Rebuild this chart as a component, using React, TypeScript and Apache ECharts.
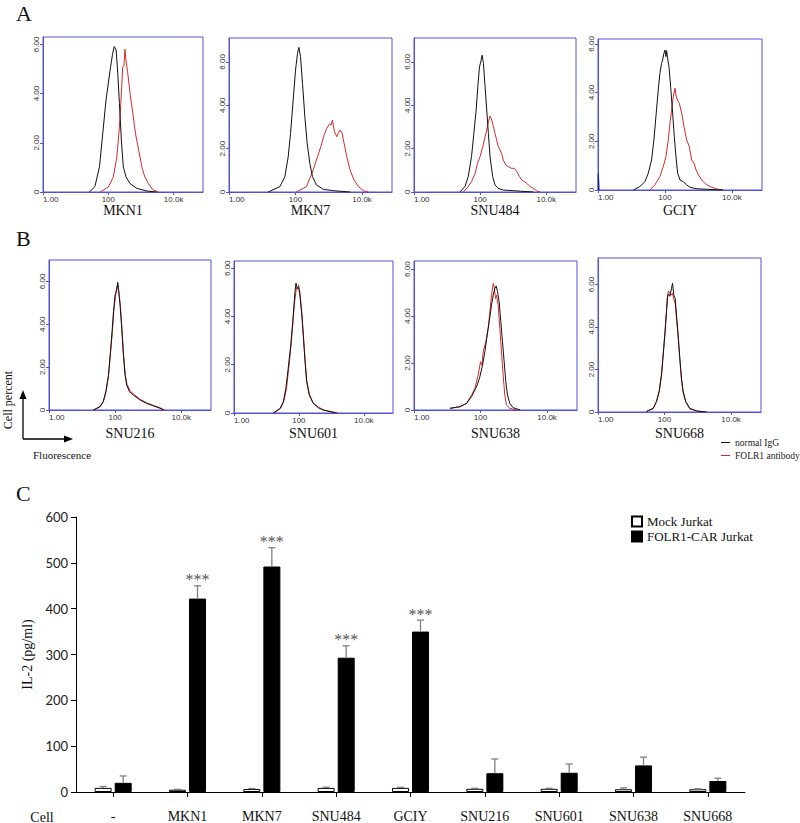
import React, { useEffect, useRef } from 'react';
import * as echarts from 'echarts';

const SERIF = "'Liberation Serif', 'Times New Roman', serif";
const SANS = "'Liberation Sans', Arial, sans-serif";
const BLUE = '#5252d6';

// ---------- Panel A / B : flow histograms (x = log10 fluorescence, y = cell %) ----------
const fluorTickLabels = ['1.00', '100', '10.0k'];

const mkn1Igg = [[1.42,0],[1.59,0.22],[1.73,1.03],[1.83,2.38],[1.93,3.74],[2.07,5.09],[2.13,5.6],[2.18,5.91],[2.24,5.77],[2.29,4.82],[2.34,3.6],[2.40,2.11],[2.46,1.03],[2.54,0.62],[2.66,0.35],[2.87,0.15],[3.18,0.04],[3.48,0]];
const mkn1Folr1 = [[1.75,0],[2.0,0.2],[2.15,0.6],[2.26,1.41],[2.34,2.63],[2.41,4.25],[2.44,5.07],[2.48,5.13],[2.51,5.8],[2.54,5.37],[2.59,4.9],[2.66,4.08],[2.75,3.2],[2.84,2.32],[2.94,1.63],[3.04,0.95],[3.12,0.61],[3.23,0.34],[3.36,0.1],[3.53,0]];

const mkn7Igg = [[1.18,0],[1.53,0.25],[1.68,0.71],[1.78,1.63],[1.85,2.7],[1.93,4.24],[2.0,5.62],[2.06,6.39],[2.10,6.67],[2.15,6.24],[2.21,5.0],[2.28,3.47],[2.35,2.24],[2.43,1.32],[2.51,0.71],[2.63,0.32],[2.84,0.12],[3.14,0.06],[3.64,0]];
const mkn7Folr1 = [[2.03,0],[2.33,0.25],[2.53,1.01],[2.66,1.63],[2.76,2.09],[2.86,2.63],[2.94,2.94],[3.02,3.13],[3.07,3.09],[3.11,3.32],[3.17,2.78],[3.24,2.55],[3.29,2.73],[3.34,2.86],[3.40,2.7],[3.47,2.17],[3.54,1.63],[3.64,1.01],[3.76,0.55],[3.89,0.25],[4.04,0.06],[4.19,0]];

const snu484Igg = [[1.39,0],[1.54,0.25],[1.64,0.71],[1.74,1.63],[1.81,2.7],[1.88,3.78],[1.93,4.85],[1.98,5.77],[2.02,6.0],[2.06,6.31],[2.10,5.93],[2.15,4.85],[2.20,3.78],[2.25,2.7],[2.30,1.63],[2.38,0.71],[2.45,0.32],[2.55,0.17],[2.70,0.09],[3.0,0.06],[3.61,0]];
const snu484Folr1 = [[1.49,0],[1.64,0.25],[1.74,0.48],[1.85,0.86],[1.92,1.32],[2.0,1.63],[2.08,2.09],[2.15,2.55],[2.20,2.86],[2.25,3.24],[2.30,3.5],[2.35,3.32],[2.40,3.01],[2.45,2.7],[2.50,2.4],[2.55,2.09],[2.60,1.94],[2.65,1.78],[2.70,1.47],[2.78,1.24],[2.85,1.17],[2.95,1.09],[3.03,1.09],[3.11,0.94],[3.19,0.71],[3.26,0.55],[3.33,0.48],[3.41,0.4],[3.51,0.25],[3.61,0.17],[3.71,0.05],[3.81,0]];

const gciyIgg = [[1.06,0],[1.25,0.14],[1.40,0.34],[1.50,0.68],[1.60,1.23],[1.67,2.05],[1.73,3.0],[1.80,4.11],[1.85,4.79],[1.90,5.2],[1.93,5.34],[1.97,5.61],[2.0,5.75],[2.03,5.48],[2.05,5.72],[2.08,5.41],[2.12,5.07],[2.17,4.25],[2.23,3.15],[2.28,2.19],[2.33,1.37],[2.38,0.68],[2.45,0.41],[2.55,0.34],[2.65,0.21],[2.75,0.11],[2.95,0.05],[3.25,0.03],[3.74,0]];
const gciyFolr1 = [[1.55,0],[1.70,0.21],[1.85,0.55],[1.95,0.96],[2.03,1.37],[2.10,2.05],[2.15,2.74],[2.20,3.29],[2.25,3.83],[2.30,4.18],[2.33,3.9],[2.37,3.70],[2.43,3.56],[2.50,3.15],[2.57,2.6],[2.65,2.05],[2.73,1.78],[2.80,1.23],[2.87,1.1],[2.93,0.82],[3.0,0.62],[3.10,0.41],[3.20,0.27],[3.35,0.14],[3.55,0.04],[3.74,0]];
const gciyUnstained = [[0.01,0],[0.01,0.68],[0.03,0.68],[0.03,0]];

const snu216Igg = [[1.34,0],[1.54,0.16],[1.64,0.39],[1.72,0.86],[1.80,1.63],[1.85,2.57],[1.90,3.5],[1.95,4.59],[2.0,5.37],[2.05,5.6],[2.08,5.96],[2.11,5.52],[2.15,4.9],[2.20,3.81],[2.25,2.57],[2.30,1.63],[2.35,1.17],[2.43,0.86],[2.55,0.7],[2.75,0.47],[2.95,0.31],[3.16,0.19],[3.36,0.08],[3.46,0]];
const snu216Folr1 = [[1.36,0],[1.55,0.15],[1.65,0.42],[1.73,0.9],[1.80,1.6],[1.86,2.62],[1.91,3.55],[1.96,4.6],[2.01,5.3],[2.05,5.75],[2.08,5.85],[2.12,5.45],[2.16,4.8],[2.21,3.7],[2.26,2.5],[2.31,1.6],[2.36,1.2],[2.45,0.9],[2.57,0.72],[2.76,0.5],[2.96,0.33],[3.18,0.2],[3.38,0.09],[3.5,0]];

const snu601Igg = [[1.21,0],[1.42,0.19],[1.52,0.47],[1.60,1.02],[1.67,1.85],[1.75,2.82],[1.81,3.79],[1.85,4.48],[1.88,5.03],[1.91,5.38],[1.95,5.17],[1.99,5.2],[2.03,4.9],[2.09,4.07],[2.14,3.1],[2.19,2.13],[2.24,1.3],[2.32,0.75],[2.44,0.4],[2.60,0.22],[2.75,0.12],[2.96,0.06],[3.16,0]];
const snu601Folr1 = [[1.25,0],[1.44,0.2],[1.54,0.5],[1.62,1.05],[1.69,1.9],[1.76,2.85],[1.82,3.8],[1.86,4.5],[1.90,4.95],[1.93,5.2],[1.97,5.15],[1.99,5.31],[2.03,5.0],[2.09,4.15],[2.14,3.2],[2.19,2.2],[2.24,1.35],[2.32,0.78],[2.44,0.42],[2.60,0.24],[2.78,0.12],[3.0,0.05],[3.2,0]];

const snu638Igg = [[1.08,0.07],[1.38,0.14],[1.58,0.28],[1.73,0.57],[1.83,0.85],[1.90,1.06],[1.98,1.42],[2.06,1.91],[2.13,2.48],[2.20,3.19],[2.26,3.76],[2.33,4.47],[2.38,4.89],[2.43,5.18],[2.47,5.29],[2.51,5.04],[2.56,4.61],[2.61,3.76],[2.66,2.91],[2.71,2.06],[2.76,1.21],[2.81,0.64],[2.88,0.28],[2.98,0.1],[3.19,0]];
const snu638Folr1 = [[1.08,0.07],[1.38,0.14],[1.58,0.28],[1.73,0.64],[1.83,0.92],[1.93,1.49],[2.0,2.06],[2.04,1.91],[2.08,2.48],[2.16,2.91],[2.23,3.48],[2.28,4.18],[2.33,4.89],[2.38,5.39],[2.41,5.25],[2.45,4.75],[2.48,4.89],[2.53,4.47],[2.58,3.48],[2.63,2.48],[2.68,1.49],[2.73,0.64],[2.78,0.21],[2.88,0.07],[3.08,0]];

const snu668Igg = [[1.46,0.03],[1.66,0.17],[1.76,0.49],[1.84,0.96],[1.91,1.74],[1.96,2.68],[2.01,3.63],[2.06,4.72],[2.09,5.4],[2.12,5.55],[2.16,5.45],[2.21,5.82],[2.24,6.06],[2.28,5.5],[2.32,5.35],[2.36,4.57],[2.41,3.63],[2.46,2.53],[2.51,1.59],[2.56,0.96],[2.64,0.49],[2.76,0.17],[2.97,0.05],[3.27,0]];
const snu668Folr1 = [[1.46,0.03],[1.66,0.17],[1.76,0.52],[1.84,1.0],[1.91,1.8],[1.96,2.75],[2.01,3.7],[2.06,4.8],[2.09,5.51],[2.12,5.7],[2.16,5.59],[2.20,5.5],[2.24,5.6],[2.28,5.3],[2.32,5.1],[2.36,4.4],[2.41,3.5],[2.46,2.45],[2.51,1.5],[2.56,0.9],[2.64,0.45],[2.76,0.15],[2.97,0.04],[3.2,0]];

const histNames = ['MKN1', 'MKN7', 'SNU484', 'GCIY', 'SNU216', 'SNU601', 'SNU638', 'SNU668'];
const histIgg = [mkn1Igg, mkn7Igg, snu484Igg, gciyIgg, snu216Igg, snu601Igg, snu638Igg, snu668Igg];
const histFolr1 = [mkn1Folr1, mkn7Folr1, snu484Folr1, gciyFolr1, snu216Folr1, snu601Folr1, snu638Folr1, snu668Folr1];
const histYMax = [6.3, 7.1, 7.1, 6.2, 7.0, 6.3, 6.35, 7.25];
const fluorMax = 4.9;

// ---------- Panel C : IL-2 release ----------
const cellLines = ['-', 'MKN1', 'MKN7', 'SNU484', 'GCIY', 'SNU216', 'SNU601', 'SNU638', 'SNU668'];
const mockIL2 = [9, 5, 6.5, 9, 9, 7, 7, 6, 6];
const mockErr = [3, 0.8, 1, 1.5, 1.5, 1, 1, 3, 1];
const carIL2 = [20, 422, 492, 293, 350, 41, 42, 58, 24];
const carErr = [15, 28, 41, 26, 25, 31, 19, 18, 6];
const significance = ['', '***', '***', '***', '***', '', '', '', ''];

// layout (pixels)
const histBoxes = [
  { left: 43, top: 37, width: 160, height: 155, gap: 11 },
  { left: 229, top: 38, width: 163, height: 154, gap: 11 },
  { left: 414, top: 38, width: 162, height: 154, gap: 11 },
  { left: 598, top: 39, width: 164, height: 151, gap: 13 },
  { left: 49, top: 260, width: 162, height: 150, gap: 16 },
  { left: 234, top: 261, width: 159, height: 152, gap: 13 },
  { left: 414, top: 261, width: 163, height: 149, gap: 16 },
  { left: 598, top: 258, width: 163, height: 154, gap: 14 },
];
const barBox = { left: 76, top: 517, width: 669, height: 276 };
const BAR_W = 17;
const BAR_OFF = 10;

export default function App() {
  const ref = useRef<HTMLDivElement>(null);
  useEffect(() => {
    if (!ref.current) return;
    const chart = echarts.init(ref.current, null, { renderer: 'svg' });

    const grids: any[] = [];
    const xAxes: any[] = [];
    const yAxes: any[] = [];
    const series: any[] = [];

    histNames.forEach((name, i) => {
      const b = histBoxes[i];
      grids.push({ left: b.left, top: b.top, width: b.width, height: b.height, show: true, borderColor: BLUE, borderWidth: 1, backgroundColor: 'transparent' });
      xAxes.push({
        type: 'value', gridIndex: i, min: 0, max: fluorMax, interval: 2,
        axisLine: { show: true, lineStyle: { color: BLUE, width: 1 } },
        axisTick: { show: true, length: 3, lineStyle: { color: BLUE } },
        splitLine: { show: false },
        axisLabel: {
          fontFamily: SANS, fontSize: 8, color: '#333', margin: 3, alignMinLabel: 'left', showMaxLabel: false,
          formatter: (v: number) => (Math.abs(v % 2) < 1e-6 && v / 2 < fluorTickLabels.length ? fluorTickLabels[v / 2] : ''),
        },
        name, nameLocation: 'middle', nameGap: b.gap,
        nameTextStyle: { fontFamily: SERIF, fontSize: 14, color: '#111' },
      });
      yAxes.push({
        type: 'value', gridIndex: i, min: 0, max: histYMax[i], interval: 2,
        axisLine: { show: true, lineStyle: { color: BLUE, width: 1 } },
        axisTick: { show: true, length: 3, lineStyle: { color: BLUE } },
        splitLine: { show: false },
        axisLabel: {
          fontFamily: SANS, fontSize: 8, color: '#333', margin: 3, rotate: 90, showMaxLabel: false,
          formatter: (v: number) => (v === 0 ? '0' : Math.abs(v % 2) < 1e-6 ? v.toFixed(2) : ''),
        },
      });
      series.push({
        type: 'line', name: 'FOLR1 antibody', xAxisIndex: i, yAxisIndex: i, data: histFolr1[i],
        showSymbol: false, symbol: 'none', lineStyle: { color: '#d42a2a', width: 1 }, itemStyle: { color: '#d42a2a' }, z: 3,
      });
      series.push({
        type: 'line', name: 'normal IgG', xAxisIndex: i, yAxisIndex: i, data: histIgg[i],
        showSymbol: false, symbol: 'none', lineStyle: { color: '#111', width: 1 }, itemStyle: { color: '#111' }, z: 4,
      });
    });
    series.push({
      type: 'line', name: 'unstained', xAxisIndex: 3, yAxisIndex: 3, data: gciyUnstained,
      showSymbol: false, symbol: 'none', lineStyle: { color: '#1a1a8c', width: 1.2 }, itemStyle: { color: '#1a1a8c' }, z: 2,
    });

    const bi = histNames.length;
    grids.push({ left: barBox.left, top: barBox.top, width: barBox.width, height: barBox.height });
    xAxes.push({
      type: 'category', gridIndex: bi, data: cellLines,
      axisLine: { show: true, lineStyle: { color: '#000', width: 1 } },
      axisTick: { show: true, alignWithLabel: true, length: 5, lineStyle: { color: '#000' } },
      axisLabel: { interval: 0, fontFamily: SERIF, fontSize: 14, color: '#111', margin: 17 },
    });
    yAxes.push({
      type: 'value', gridIndex: bi, min: 0, max: 600, interval: 100,
      axisLine: { show: true, lineStyle: { color: '#000', width: 1 } },
      axisTick: { show: true, length: 5, lineStyle: { color: '#000' } },
      splitLine: { show: false },
      axisLabel: { fontFamily: 'Lato, sans-serif', fontSize: 13, color: '#222', margin: 8 },
      name: 'IL-2 (pg/ml)', nameLocation: 'middle', nameGap: 41,
      nameTextStyle: { fontFamily: SERIF, fontSize: 14, color: '#111' },
    });
    series.push({
      type: 'bar', name: 'Mock Jurkat', xAxisIndex: bi, yAxisIndex: bi, data: mockIL2,
      barWidth: BAR_W, barGap: '18%', itemStyle: { color: '#fff', borderColor: '#000', borderWidth: 1 },
    });
    series.push({
      type: 'bar', name: 'FOLR1-CAR Jurkat', xAxisIndex: bi, yAxisIndex: bi, data: carIL2,
      barWidth: BAR_W, barGap: '18%', itemStyle: { color: '#000', borderColor: '#000', borderWidth: 1 },
    });
    const errRender = (offset: number, stars: boolean) => (params: any, api: any) => {
      const i = api.value(0);
      const v = api.value(1);
      const e = api.value(2);
      const base = api.coord([i, v]);
      const top = api.coord([i, v + e]);
      const x = base[0] + offset;
      const st = { stroke: '#808080', lineWidth: 1.3 };
      const children: any[] = [
        { type: 'line', shape: { x1: x, y1: base[1], x2: x, y2: top[1] }, style: st },
        { type: 'line', shape: { x1: x - 3.5, y1: top[1], x2: x + 3.5, y2: top[1] }, style: st },
      ];
      if (stars && significance[i]) {
        children.push({
          type: 'text', x, y: top[1] - 6,
          style: { text: significance[i], fontFamily: SERIF, fontSize: 16, fill: '#555', align: 'center', verticalAlign: 'middle' },
        });
      }
      return { type: 'group', children };
    };
    series.push({
      type: 'custom', name: 'mockErr', xAxisIndex: bi, yAxisIndex: bi, z: 5,
      data: cellLines.map((_, i) => [i, mockIL2[i], mockErr[i]]),
      encode: { x: 0, y: 1 }, renderItem: errRender(-BAR_OFF, false),
    });
    series.push({
      type: 'custom', name: 'carErr', xAxisIndex: bi, yAxisIndex: bi, z: 5,
      data: cellLines.map((_, i) => [i, carIL2[i], carErr[i]]),
      encode: { x: 0, y: 1 }, renderItem: errRender(BAR_OFF, true),
    });

    const option: any = {
      animation: false,
      backgroundColor: '#fff',
      grid: grids,
      xAxis: xAxes,
      yAxis: yAxes,
      series,
      legend: [
        {
          data: ['normal IgG', 'FOLR1 antibody'], left: 716, top: 432, orient: 'vertical',
          icon: 'rect', itemWidth: 9, itemHeight: 1, itemGap: 2, selectedMode: false,
          textStyle: { fontFamily: SERIF, fontSize: 9.5, color: '#222', lineHeight: 11 },
        },
        {
          data: ['Mock Jurkat', 'FOLR1-CAR Jurkat'], left: 626, top: 510, orient: 'vertical',
          icon: 'rect', itemWidth: 10, itemHeight: 10, itemGap: 2, selectedMode: false,
          textStyle: { fontFamily: SERIF, fontSize: 13, color: '#111', lineHeight: 13 },
        },
      ],
      graphic: [
        { type: 'text', left: 16, top: 2, style: { text: 'A', fontFamily: SERIF, fontSize: 22, fill: '#111' } },
        { type: 'text', left: 16, top: 227, style: { text: 'B', fontFamily: SERIF, fontSize: 22, fill: '#111' } },
        { type: 'text', left: 16, top: 482, style: { text: 'C', fontFamily: SERIF, fontSize: 22, fill: '#111' } },
        { type: 'text', x: 42, y: 817, style: { text: 'Cell', fontFamily: SERIF, fontSize: 14, fill: '#111', align: 'center', verticalAlign: 'middle' } },
        { type: 'text', x: 8, y: 400, rotation: Math.PI / 2, style: { text: 'Cell percent', fontFamily: SERIF, fontSize: 12, fill: '#111', align: 'center', verticalAlign: 'middle' } },
        { type: 'text', x: 62, y: 455, style: { text: 'Fluorescence', fontFamily: SERIF, fontSize: 11, fill: '#111', align: 'center', verticalAlign: 'middle' } },
        { type: 'line', shape: { x1: 23, y1: 439, x2: 23, y2: 397 }, style: { stroke: '#000', lineWidth: 1.3 } },
        { type: 'polygon', shape: { points: [[19.5, 399], [26.5, 399], [23, 390]] }, style: { fill: '#000' } },
        { type: 'line', shape: { x1: 23, y1: 439, x2: 66, y2: 439 }, style: { stroke: '#000', lineWidth: 1.3 } },
        { type: 'polygon', shape: { points: [[64, 435.5], [64, 442.5], [73, 439]] }, style: { fill: '#000' } },
      ],
    };
    chart.setOption(option);
    return () => chart.dispose();
  }, []);
  return <div ref={ref} style={{ position: 'absolute', left: 0, top: 0, width: 800, height: 823, background: '#fff' }} />;
}
